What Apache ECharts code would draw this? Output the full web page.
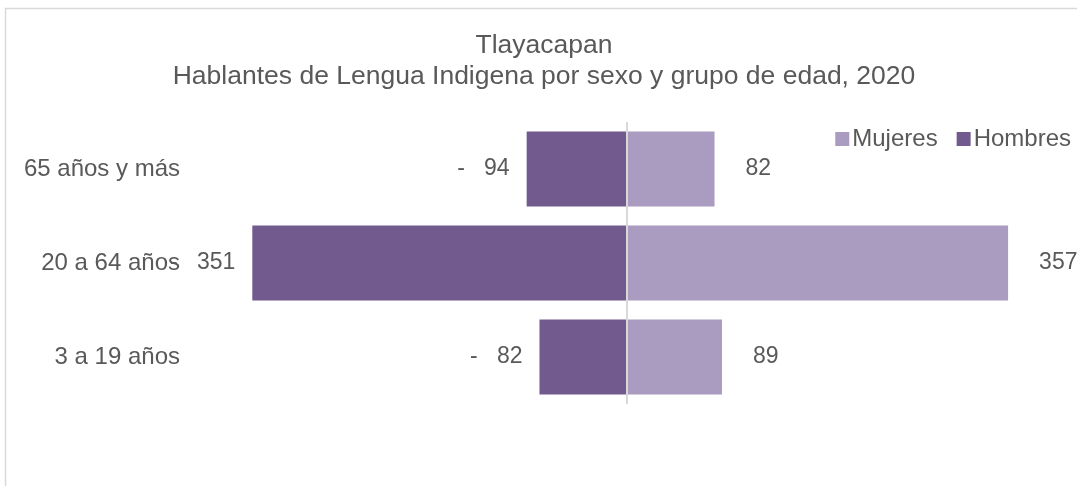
<!DOCTYPE html>
<html>
<head>
<meta charset="utf-8">
<style>
  html, body { margin: 0; padding: 0; background: #fff; }
  #chart { width: 1077px; height: 486px; }
</style>
<script src="https://cdn.jsdelivr.net/npm/echarts@6/dist/echarts.min.js"></script>
</head>
<body>
<div id="chart"></div>
<script>
// grupos de edad, de arriba hacia abajo
var categories = ['65 años y más', '20 a 64 años', '3 a 19 años'];
var hombres = [-94, -351, -82];
var mujeres = [82, 357, 89];

var font = "'Liberation Sans', Arial, sans-serif";
var gris = '#595959';

var chart = echarts.init(document.getElementById('chart'));

var option = {
  backgroundColor: '#ffffff',
  color: ['#AA9BC0', '#725A8F'],
  textStyle: { fontFamily: font },
  graphic: [{
    type: 'rect',
    silent: true,
    shape: { x: 5.5, y: 8.5, width: 1200, height: 600 },
    style: { fill: 'none', stroke: '#d9d9d9', lineWidth: 1.5 }
  }],
  title: {
    text: 'Tlayacapan\nHablantes de Lengua Indigena por sexo y grupo de edad, 2020',
    left: 544,
    top: 30,
    padding: 0,
    textAlign: 'center',
    textStyle: {
      fontFamily: font,
      fontSize: 26.5,
      fontWeight: 'normal',
      color: gris,
      lineHeight: 31,
      align: 'center'
    }
  },
  legend: {
    data: ['Mujeres', 'Hombres'],
    right: 1,
    top: 122,
    icon: 'rect',
    itemWidth: 14,
    itemHeight: 14,
    itemGap: 19,
    textStyle: { fontFamily: font, fontSize: 24, color: gris, padding: [0, 0, 0, -2] }
  },
  grid: { left: 200, right: 23, top: 122, bottom: 82 },
  xAxis: {
    type: 'value',
    min: -400,
    max: 400,
    show: false
  },
  yAxis: {
    type: 'category',
    data: categories,
    inverse: true,
    axisLine: { show: false },
    axisTick: { show: false },
    axisLabel: { fontFamily: font, fontSize: 24, color: gris, margin: 20 }
  },
  series: [{
    name: 'Mujeres',
    type: 'bar',
    data: mujeres,
    barWidth: 75,
    barGap: '-100%',
    label: {
      show: true,
      position: 'right',
      distance: 31,
      fontFamily: font,
      fontSize: 23,
      color: gris
    },
    markLine: {
      silent: true,
      symbol: 'none',
      z: 10,
      label: { show: false },
      lineStyle: { color: '#d9d9d9', width: 2, type: 'solid' },
      data: [{ xAxis: 0 }]
    }
  }, {
    name: 'Hombres',
    type: 'bar',
    data: hombres,
    barWidth: 75,
    label: {
      show: true,
      position: 'left',
      distance: 17,
      fontFamily: font,
      fontSize: 23,
      color: gris,
      formatter: function (p) { return '-   ' + Math.abs(p.value); }
    }
  }]
};

chart.setOption(option);
</script>
</body>
</html>
